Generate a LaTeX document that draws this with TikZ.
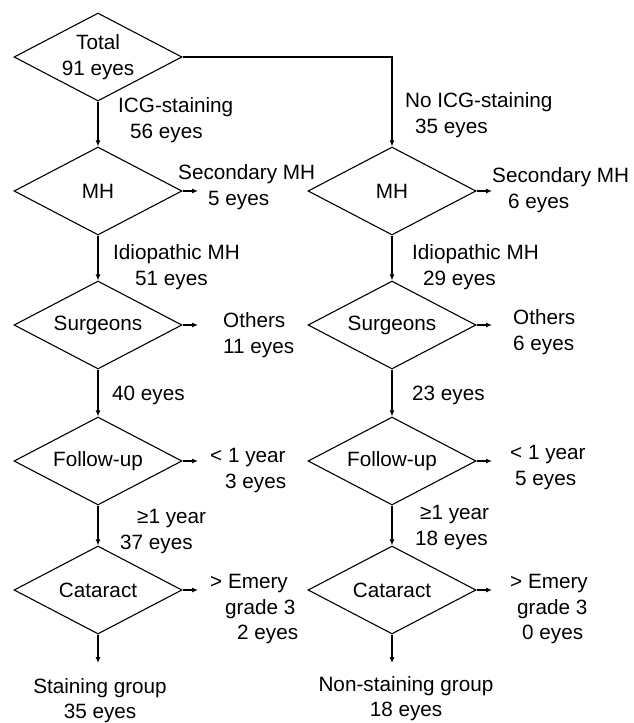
\documentclass[tikz,border=0pt]{standalone}
\usepackage{fontspec}
\setmainfont{Liberation Sans}
\usetikzlibrary{shapes.geometric,arrows.meta}
\begin{document}
\begin{tikzpicture}[x=1pt,y=-1pt,
  txt/.style={font=\fontsize{20.7}{25.5}\selectfont},
  lbl/.style={txt, inner sep=0pt, align=left, anchor=north west},
  endlbl/.style={txt, inner sep=0pt, align=center, anchor=north},
  dia/.style={draw, diamond, shape aspect=1.9, minimum width=168pt, minimum height=88pt,
              inner sep=0pt, align=center, txt, line width=1.1pt},
  arr/.style={line width=1.1pt, -{Latex[length=6pt,width=5pt]}}]
\useasboundingbox (0,0) rectangle (633,723);

% diamonds, left column
\node[dia] (Tot) at (98,57) {Total\\91 eyes};
\node[dia] (MHl) at (98,191) {MH};
\node[dia] (Sl)  at (98,325) {Surgeons};
\node[dia] (Fl)  at (98,461) {Follow-up};
\node[dia] (Cl)  at (98,590) {Cataract};
% diamonds, right column
\node[dia] (MHr) at (392,191) {MH};
\node[dia] (Sr)  at (392,325) {Surgeons};
\node[dia] (Fr)  at (392,461) {Follow-up};
\node[dia] (Cr)  at (392,590) {Cataract};

% free ends
\coordinate (eMHl) at (198,191);
\coordinate (eSl)  at (198,325);
\coordinate (eFl)  at (198,461);
\coordinate (eCl)  at (198,590);
\coordinate (eMHr) at (492,191);
\coordinate (eSr)  at (492,325);
\coordinate (eFr)  at (492,461);
\coordinate (eCr)  at (492,590);
\coordinate (endL) at (98,663);
\coordinate (endR) at (392,663);

% connectors
\draw[arr] (Tot.south) -- (MHl.north);
\draw[arr] (MHl.south) -- (Sl.north);
\draw[arr] (Sl.south) -- (Fl.north);
\draw[arr] (Fl.south) -- (Cl.north);
\draw[arr] (Cl.south) -- (endL);
\draw[arr] (Tot.east) -| (MHr.north);
\draw[arr] (MHr.south) -- (Sr.north);
\draw[arr] (Sr.south) -- (Fr.north);
\draw[arr] (Fr.south) -- (Cr.north);
\draw[arr] (Cr.south) -- (endR);
\draw[arr] (MHl.east) -- (eMHl);
\draw[arr] (Sl.east) -- (eSl);
\draw[arr] (Fl.east) -- (eFl);
\draw[arr] (Cl.east) -- (eCl);
\draw[arr] (MHr.east) -- (eMHr);
\draw[arr] (Sr.east) -- (eSr);
\draw[arr] (Fr.east) -- (eFr);
\draw[arr] (Cr.east) -- (eCr);

% labels, left
\node[lbl] (L1) at (118,97.5) {ICG-staining\\\hspace*{12pt}56 eyes};
\node[lbl] (L2) at (178,164.5) {Secondary MH\\\hspace*{30pt}5 eyes};
\node[lbl] (L3) at (113,244.5) {Idiopathic MH\\\hspace*{22pt}51 eyes};
\node[lbl] (L4) at (223,312.5) {Others\\11 eyes};
\node[lbl] (L5) at (112,385.5) {40 eyes};
\node[lbl] (L6) at (210,448.5) {< 1 year\\\hspace*{15pt}3 eyes};
\node[lbl] (L7) at (120,509.5) {\hspace*{17pt}≥1 year\\37 eyes};
\node[lbl] (L8) at (210,574.5) {> Emery\\\hspace*{15pt}grade 3\\\hspace*{27pt}2 eyes};
\node[endlbl] (L9) at (100,678) {Staining group\\35 eyes};

% labels, right
\node[lbl] (R1) at (405,92.5) {No ICG-staining\\\hspace*{10pt}35 eyes};
\node[lbl] (R2) at (492,167.5) {Secondary MH\\\hspace*{16pt}6 eyes};
\node[lbl] (R3) at (412,244.5) {Idiopathic MH\\\hspace*{11pt}29 eyes};
\node[lbl] (R4) at (513,309.5) {Others\\6 eyes};
\node[lbl] (R5) at (412,385.5) {23 eyes};
\node[lbl] (R6) at (510,445.5) {< 1 year\\\hspace*{5pt}5 eyes};
\node[lbl] (R7) at (415,505.5) {\hspace*{5pt}≥1 year\\18 eyes};
\node[lbl] (R8) at (510,574.5) {> Emery\\\hspace*{7pt}grade 3\\\hspace*{12pt}0 eyes};
\node[endlbl] (R9) at (406,676) {Non-staining group\\18 eyes};
\end{tikzpicture}
\end{document}
